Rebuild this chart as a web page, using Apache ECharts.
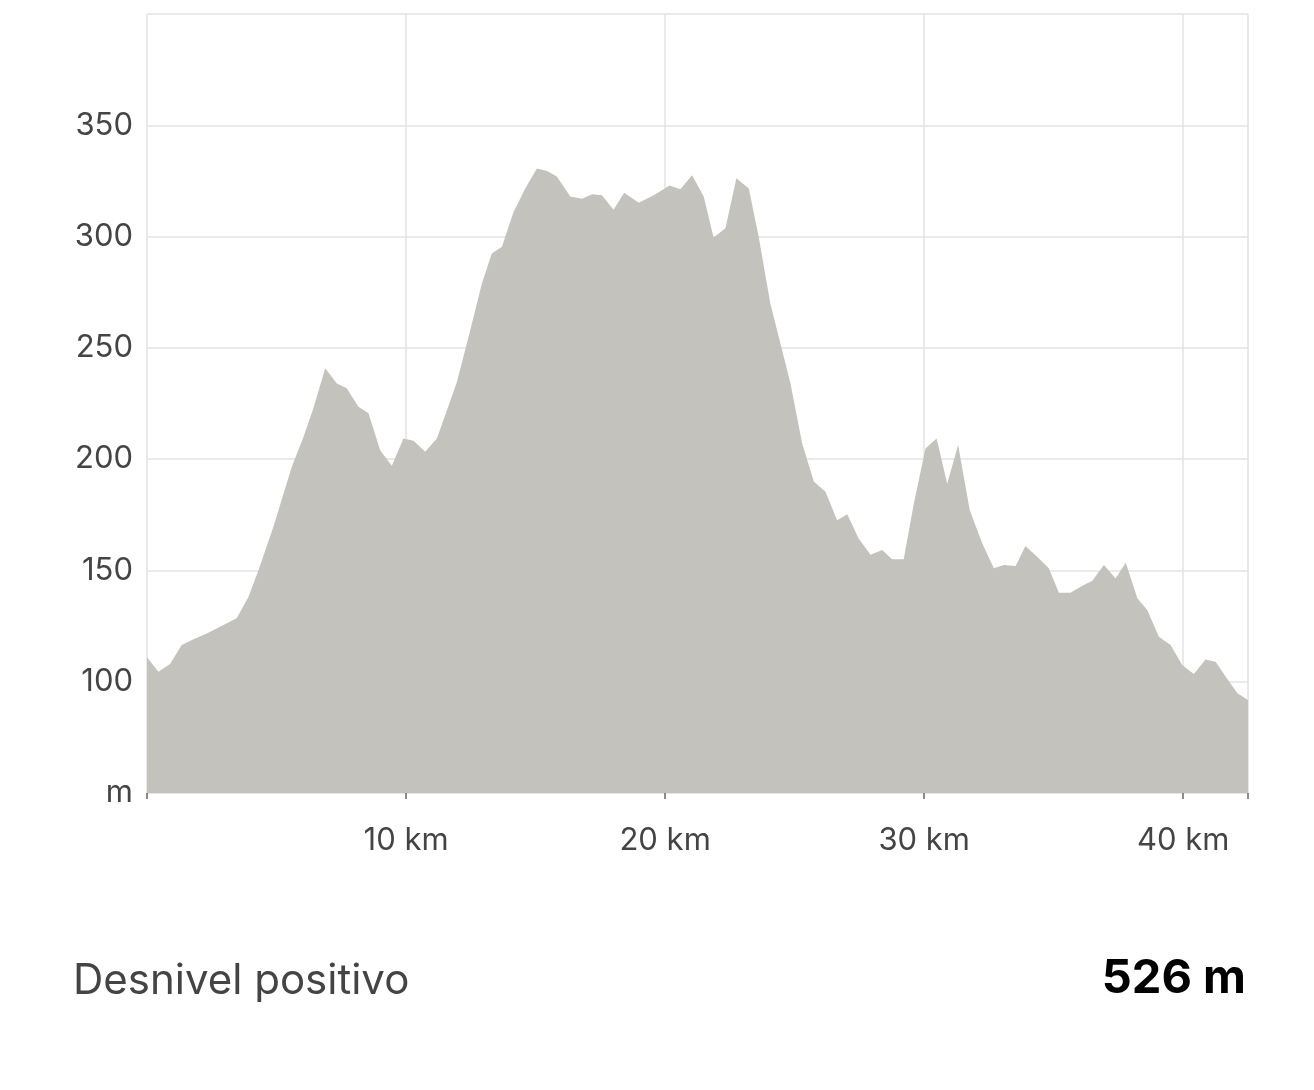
<!DOCTYPE html>
<html>
<head>
<meta charset="utf-8">
<script src="https://cdn.jsdelivr.net/npm/echarts@6/dist/echarts.min.js"></script>
<style>
  html, body { margin: 0; padding: 0; background: #fff; }
  #elevationChart { width: 1314px; height: 1090px; }
</style>
</head>
<body>
<div id="elevationChart"></div>
<script>
const distances = [
  0, 0.44, 0.89, 1.34, 1.73, 2.31, 2.95, 3.46, 3.91, 4.30, 4.88, 5.59, 6.04, 6.42,
  6.88, 7.33, 7.71, 8.16, 8.55, 9.0, 9.45, 9.90, 10.29, 10.74, 11.19, 11.96, 12.48,
  12.93, 13.31, 13.70, 14.15, 14.60, 15.05, 15.44, 15.82, 16.34, 16.79, 17.18, 17.56,
  18.01, 18.42, 18.98, 19.56, 20.17, 20.59, 21.04, 21.49, 21.87, 22.33, 22.75, 23.23,
  23.61, 24.06, 24.45, 24.84, 25.29, 25.74, 26.19, 26.64, 27.03, 27.47, 27.93, 28.38,
  28.76, 29.21, 29.60, 30.05, 30.48, 30.89, 31.31, 31.76, 32.24, 32.69, 33.07, 33.53,
  33.91, 34.36, 34.81, 35.20, 35.65, 36.04, 36.49, 36.94, 37.39, 37.78, 38.23, 38.61,
  39.06, 39.51, 39.96, 40.41, 40.86, 41.25, 41.64, 42.09, 42.5
];
const elevations = [
  111, 104.5, 108, 116.5, 118.7, 121.7, 125.5, 128.5, 138, 150, 169.6, 196.6, 210, 222.8,
  240.8, 234, 231.8, 223.5, 220.6, 204, 197, 209.3, 208.3, 203.3, 209.3, 234.5, 258,
  279, 292.4, 295.4, 311, 321.6, 330.6, 329.5, 327, 318, 317, 319, 318.6,
  312, 319.7, 315.2, 318.6, 323, 321.3, 327.6, 318, 299.6, 303.7, 326.2, 321.6,
  300, 270, 252, 234, 207, 190, 185.4, 172.6, 175.2, 164.4, 157, 159.2,
  155, 155, 180, 204.8, 209.3, 189, 206.3, 177, 162.2, 151, 152.4, 152,
  161, 156.2, 151, 140, 140, 142.7, 145.4, 152.4, 146.4, 153.5, 137.5, 132.2,
  120.2, 116.5, 107.5, 103.5, 110, 109, 102.2, 94.8, 91.8
];
const yTicks = [50, 100, 150, 200, 250, 300, 350, 400];
const xTickStep = 10;
const summaryLabel = "Desnivel positivo";
const summaryValue = "526 m";

const fontFamily = "Inter, 'Noto Sans', sans-serif";
const gridColor = "#e3e3e3";

const points = distances.map((d, i) => [d, elevations[i]]);

const chart = echarts.init(document.getElementById("elevationChart"));
chart.setOption({
  animation: false,
  backgroundColor: "#ffffff",
  grid: { left: 147, top: 14, width: 1101, height: 779, containLabel: false },
  xAxis: {
    type: "value",
    min: 0,
    max: 42.5,
    interval: xTickStep,
    axisLine: { show: true, lineStyle: { color: gridColor, width: 1.5 } },
    axisTick: { show: true, length: 6, lineStyle: { color: "#666", width: 1.5 } },
    axisLabel: {
      margin: 32,
      color: "#444",
      fontSize: 31,
      fontFamily: fontFamily,
      showMinLabel: true,
      showMaxLabel: true,
      formatter: function (v) {
        return v > 0 && v % xTickStep === 0 ? v + " km" : "";
      },
    },
    splitLine: { show: true, lineStyle: { color: gridColor, width: 1.5 } },
  },
  yAxis: {
    type: "value",
    min: yTicks[0],
    max: yTicks[yTicks.length - 1],
    interval: 50,
    axisLine: { show: false },
    axisTick: { show: false },
    axisLabel: {
      margin: 14,
      color: "#444",
      fontSize: 31,
      fontFamily: fontFamily,
      formatter: function (v) {
        if (v === yTicks[0]) return "m";
        if (v === yTicks[yTicks.length - 1]) return "";
        return String(v);
      },
    },
    splitLine: { show: true, lineStyle: { color: gridColor, width: 1.5 } },
  },
  series: [
    {
      type: "line",
      data: points,
      symbol: "none",
      smooth: false,
      lineStyle: { width: 0, color: "#c3c2bd" },
      areaStyle: { color: "#c3c2bd", opacity: 1, origin: "start" },
      z: 1,
    },
  ],
  graphic: [
    {
      type: "text",
      left: 73,
      top: 960,
      style: {
        text: summaryLabel,
        fill: "#444",
        fontSize: 42,
        fontFamily: fontFamily,
      },
    },
    {
      type: "text",
      right: 68,
      top: 955,
      style: {
        text: summaryValue,
        fill: "#000",
        fontSize: 47,
        fontWeight: "bold",
        fontFamily: fontFamily,
      },
    },
  ],
});
</script>
</body>
</html>
